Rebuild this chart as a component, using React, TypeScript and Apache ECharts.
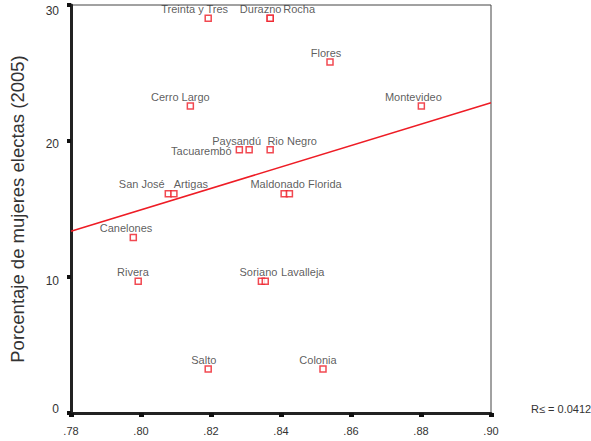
import React, { useEffect, useRef } from "react";
import * as echarts from "echarts";

// Departments of Uruguay: independent variable vs. share of women elected (2005)
const departments = [
  "Treinta y Tres", "Durazno", "Rocha", "Flores", "Cerro Largo", "Montevideo",
  "Tacuarembó", "Paysandú", "Rio Negro", "San José", "Artigas", "Maldonado",
  "Florida", "Canelones", "Rivera", "Soriano", "Lavalleja", "Salto", "Colonia",
];
const xValues = [
  0.8192, 0.8369, 0.8369, 0.854, 0.8141, 0.8801,
  0.8281, 0.8309, 0.8369, 0.8078, 0.8094, 0.8409,
  0.8424, 0.7978, 0.7992, 0.8344, 0.8355, 0.8192, 0.852,
];
const womenPct = [
  29.03, 29.03, 29.03, 25.81, 22.58, 22.58,
  19.35, 19.35, 19.35, 16.13, 16.13, 16.13,
  16.13, 12.9, 9.68, 9.68, 9.68, 3.23, 3.23,
];
// Fitted linear trend, endpoints at the x-axis limits
const fitX = [0.78, 0.9];
const fitY = [13.37, 22.81];
const rSquaredText = "R≤ = 0.0412";
const yTitle = "Porcentaje de mujeres electas (2005)";

// Horizontal shift of each point label, so neighbouring names don't collide
const labelShift: Record<string, number> = {
  "Treinta y Tres": -13.5, Durazno: -9.5, Rocha: 29, Flores: -4,
  "Cerro Largo": -10, Montevideo: -8, "Paysandú": -12.5, "Rio Negro": 22,
  "San José": -26.5, Artigas: 17, Maldonado: -6.5, Florida: 35.5,
  Canelones: -7.3, Rivera: -5.3, Soriano: -3, Lavalleja: 37.5,
  Salto: -4.4, Colonia: -5,
};

const FONT = "'Liberation Sans', Arial, sans-serif";
const RED = "#ee1c25";
const TEXT = "#333333";

export default function App() {
  const ref = useRef<HTMLDivElement>(null);

  useEffect(() => {
    if (!ref.current) return;
    const chart = echarts.init(ref.current, undefined, { renderer: "svg" });

    const labelStyle = { show: true, color: TEXT, fontFamily: FONT, fontSize: 11, formatter: "{b}" };
    const points = departments.map((name, i) => ({
      name,
      value: [xValues[i], womenPct[i]],
      label:
        name === "Tacuarembó"
          ? { ...labelStyle, position: "left", distance: 4 }
          : { ...labelStyle, position: "top", distance: 0 },
    }));

    const tickText = { color: TEXT, fontFamily: FONT, fontSize: 12 };

    chart.setOption({
      animation: false,
      grid: {
        left: 71,
        right: 100,
        top: 5,
        bottom: 28,
        show: true,
        borderColor: "#444",
        borderWidth: 1,
        backgroundColor: "transparent",
      },
      xAxis: {
        type: "value",
        min: 0.78,
        max: 0.9,
        interval: 0.02,
        splitLine: { show: false },
        axisLine: { lineStyle: { color: "#222", width: 3 } },
        axisTick: { length: 4, lineStyle: { color: "#111", width: 5 } },
        axisLabel: {
          color: TEXT,
          fontFamily: FONT,
          fontSize: 11,
          margin: 12,
          formatter: (v: number) => v.toFixed(2).replace(/^0/, ""),
        },
      },
      yAxis: {
        type: "value",
        min: 0,
        max: 30,
        interval: 10,
        name: yTitle,
        nameLocation: "middle",
        nameGap: 44,
        nameTextStyle: { color: TEXT, fontFamily: FONT, fontSize: 18.5 },
        splitLine: { show: false },
        axisLine: { lineStyle: { color: "#222", width: 3 } },
        axisTick: { length: 4, lineStyle: { color: "#111", width: 4 } },
        axisLabel: {
          ...tickText,
          margin: 12,
          formatter: (v: number) => {
            if (v === 30) return `{t30|${v}}`;
            if (v === 20) return `{t20|${v}}`;
            if (v === 10) return `{t10|${v}}`;
            return `{t0|${v}}`;
          },
          rich: {
            t30: { ...tickText, padding: [12, 0, 0, 0] },
            t20: { ...tickText, padding: [6, 0, 0, 0] },
            t10: { ...tickText, padding: [8, 0, 0, 0] },
            t0: { ...tickText, padding: [0, 0, 8, 0] },
          },
        },
      },
      graphic: [
        {
          type: "text",
          left: 531,
          top: 403,
          style: { text: rSquaredText, fill: TEXT, font: `11px ${FONT}` },
        },
      ],
      series: [
        {
          type: "line",
          data: fitX.map((x, i) => [x, fitY[i]]),
          showSymbol: false,
          silent: true,
          lineStyle: { color: RED, width: 1.5 },
          z: 1,
        },
        {
          type: "scatter",
          data: points,
          symbol: "rect",
          symbolSize: 6,
          itemStyle: { color: "#fff", borderColor: RED, borderWidth: 1.5 },
          label: labelStyle,
          labelLayout: (params: any) => {
            const name = departments[params.dataIndex];
            return { dx: labelShift[name] ?? 0, dy: name === "Tacuarembó" ? 1 : 0 };
          },
          z: 3,
        },
      ],
    });

    return () => chart.dispose();
  }, []);

  return (
    <div
      ref={ref}
      style={{ position: "absolute", left: 0, top: 0, width: 591, height: 441, background: "#fff" }}
    />
  );
}
